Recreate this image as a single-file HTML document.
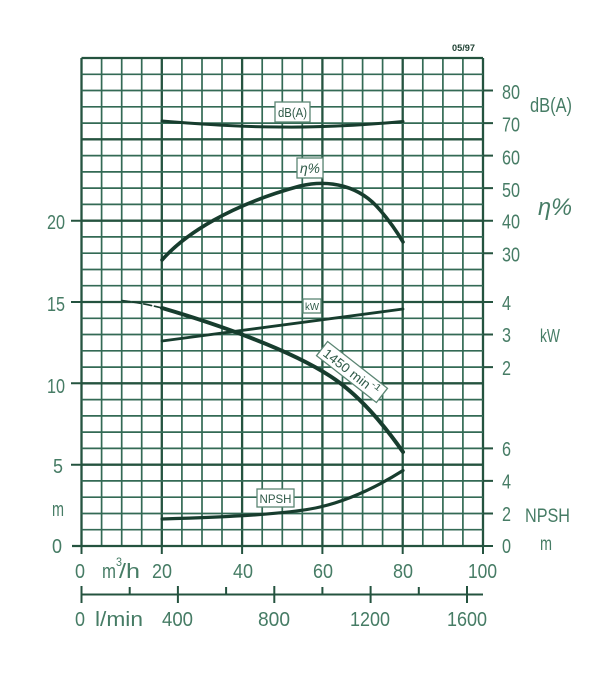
<!DOCTYPE html>
<html>
<head>
<meta charset="utf-8">
<style>
html,body{margin:0;padding:0;background:#fff;}
svg{display:block;}
text{font-family:"Liberation Sans",sans-serif;}
</style>
</head>
<body>
<svg width="600" height="673" viewBox="0 0 600 673" xmlns="http://www.w3.org/2000/svg">
<rect width="600" height="673" fill="#fff"/>

<!-- minor grid vertical -->
<path fill="none" stroke="#336a55" stroke-width="1.7" d="M101.6 58V546M121.7 58V546M141.7 58V546M181.9 58V546M202 58V546M222 58V546M262.2 58V546M282.3 58V546M302.3 58V546M342.5 58V546M362.6 58V546M382.6 58V546M422.8 58V546M442.9 58V546M462.9 58V546"/>
<!-- major grid vertical -->
<path fill="none" stroke="#24533f" stroke-width="2.3" d="M81.5 58V546M161.8 58V546M242.1 58V546M322.4 58V546M402.7 58V546M483 58V546"/>
<!-- horizontal grid -->
<path fill="none" stroke="#336a55" stroke-width="1.7" d="M81.5 529.7H483M81.5 513.5H483M81.5 497.2H483M81.5 480.9H483M81.5 448.4H483M81.5 432.1H483M81.5 415.9H483M81.5 399.6H483M81.5 367.1H483M81.5 350.8H483M81.5 334.5H483M81.5 318.3H483M81.5 285.7H483M81.5 269.5H483M81.5 253.2H483M81.5 236.9H483M81.5 204.4H483M81.5 188.1H483M81.5 171.9H483M81.5 155.6H483M81.5 123.1H483M81.5 106.8H483M81.5 90.5H483M81.5 74.3H483"/>
<path fill="none" stroke="#24533f" stroke-width="2.3" d="M72 546H483M81.5 464.7H483M81.5 383.3H483M81.5 302H483M81.5 220.7H483M81.5 139.3H483M81.5 58H483"/>

<!-- axis ticks -->
<path fill="none" stroke="#24533f" stroke-width="2" d="M71 464.7H81.5M71 383.3H81.5M71 302H81.5M71 220.7H81.5
M483 90.5H493M483 123.1H493M483 155.6H493M483 188.1H493M483 220.7H493M483 253.2H493
M483 302H493M483 334.5H493M483 367.1H493M483 448.4H493M483 480.9H493M483 513.5H493M483 546H493
M81.5 546V554M161.8 546V554M242.1 546V554M322.4 546V554M402.7 546V554M483 546V554"/>

<!-- l/min axis -->
<path fill="none" stroke="#24533f" stroke-width="2" d="M81.5 594.5H483M81.5 586V603M177.9 586V603M274.3 586V603M370.6 586V603M467 586V603M129.7 587V594.5M226.1 587V594.5M322.4 587V594.5M418.8 587V594.5"/>

<!-- curves -->
<g fill="none" stroke="#173d2e" stroke-linecap="round" stroke-linejoin="round">
  <!-- dB(A) -->
  <path stroke-width="3" d="M162 121 C200 124 240 127 280 127 C320 127.5 360 125.5 403 121.5"/>
  <!-- eta -->
  <path stroke-width="3.6" d="M162 260 C185 234 230 205 300 186 C330 179 360 186 380 210 Q393 225 403 242"/>
  <!-- kW -->
  <path stroke-width="2.8" d="M162 341 L403 309"/>
  <!-- H dashed thin start -->
  <path stroke-width="1.6" stroke-dasharray="8 3" d="M122 300.5 Q142 303 162 308"/>
  <!-- H -->
  <path stroke-width="4" d="M162 308 C220 325 290 350 330 376 C358 394 382 422 403 452"/>
  <!-- NPSH -->
  <path stroke-width="3.2" d="M162 519 C230 517 290 514 320 507 C350 500 380 485 403 470.5"/>
</g>

<!-- label boxes -->
<g stroke="#5b8573" stroke-width="1.3" fill="#fff">
  <rect x="275" y="102" width="35" height="20"/>
  <rect x="297" y="158" width="26" height="20"/>
  <rect x="303" y="299" width="18" height="14"/>
  <rect x="257" y="489" width="37" height="18"/>
</g>
<g fill="#2f5a48">
  <text x="278" y="117" font-size="13" textLength="29" lengthAdjust="spacingAndGlyphs">dB(A)</text>
  <text x="300" y="173" font-size="14" font-style="italic" textLength="20" lengthAdjust="spacingAndGlyphs">η%</text>
  <text x="305" y="310" font-size="10" textLength="14" lengthAdjust="spacingAndGlyphs">kW</text>
  <text x="259.5" y="503" font-size="12" textLength="32" lengthAdjust="spacingAndGlyphs">NPSH</text>
</g>
<g transform="translate(352,372) rotate(38)">
  <rect x="-38" y="-9" width="76" height="18" fill="#fff" stroke="#5b8573" stroke-width="1.3"/>
  <text x="-34" y="5" font-size="13" fill="#2f5a48" textLength="30" lengthAdjust="spacingAndGlyphs">1450</text>
  <text x="0" y="5" font-size="13" fill="#2f5a48" textLength="22" lengthAdjust="spacingAndGlyphs">min</text>
  <text x="23" y="-1" font-size="9" fill="#2f5a48" textLength="10" lengthAdjust="spacingAndGlyphs">-1</text>
</g>

<!-- top-right code -->
<text x="452" y="51" font-size="9" font-weight="bold" fill="#1d3f31" textLength="23" lengthAdjust="spacingAndGlyphs">05/97</text>

<!-- left labels -->
<g fill="#467c65" font-size="20">
  <text x="47" y="229" textLength="18" lengthAdjust="spacingAndGlyphs">20</text>
  <text x="47" y="311" textLength="18" lengthAdjust="spacingAndGlyphs">15</text>
  <text x="47" y="393" textLength="18" lengthAdjust="spacingAndGlyphs">10</text>
  <text x="53" y="473" textLength="10" lengthAdjust="spacingAndGlyphs">5</text>
  <text x="52" y="516" textLength="12" lengthAdjust="spacingAndGlyphs">m</text>
  <text x="52" y="553" textLength="10" lengthAdjust="spacingAndGlyphs">0</text>
</g>

<!-- right labels -->
<g fill="#467c65" font-size="20">
  <text x="502" y="99" textLength="18" lengthAdjust="spacingAndGlyphs">80</text>
  <text x="502" y="131.5" textLength="18" lengthAdjust="spacingAndGlyphs">70</text>
  <text x="502" y="164.5" textLength="18" lengthAdjust="spacingAndGlyphs">60</text>
  <text x="502" y="197" textLength="18" lengthAdjust="spacingAndGlyphs">50</text>
  <text x="502" y="228.5" textLength="18" lengthAdjust="spacingAndGlyphs">40</text>
  <text x="502" y="261.5" textLength="18" lengthAdjust="spacingAndGlyphs">30</text>
  <text x="502" y="310" textLength="9" lengthAdjust="spacingAndGlyphs">4</text>
  <text x="502" y="342" textLength="9" lengthAdjust="spacingAndGlyphs">3</text>
  <text x="502" y="375" textLength="9" lengthAdjust="spacingAndGlyphs">2</text>
  <text x="502" y="456" textLength="9" lengthAdjust="spacingAndGlyphs">6</text>
  <text x="502" y="488.5" textLength="9" lengthAdjust="spacingAndGlyphs">4</text>
  <text x="502" y="521" textLength="9" lengthAdjust="spacingAndGlyphs">2</text>
  <text x="502" y="553" textLength="9" lengthAdjust="spacingAndGlyphs">0</text>

  <text x="530" y="112" textLength="42" lengthAdjust="spacingAndGlyphs">dB(A)</text>
  <text x="538" y="215" font-size="24" font-style="italic" textLength="34" lengthAdjust="spacingAndGlyphs">η%</text>
  <text x="540" y="342" font-size="18" textLength="20" lengthAdjust="spacingAndGlyphs">kW</text>
  <text x="525" y="522" font-size="19" textLength="45" lengthAdjust="spacingAndGlyphs">NPSH</text>
  <text x="540" y="550" font-size="19" textLength="12" lengthAdjust="spacingAndGlyphs">m</text>
</g>

<!-- bottom labels -->
<g fill="#467c65" font-size="20">
  <text x="75" y="578" textLength="10" lengthAdjust="spacingAndGlyphs">0</text>
  <text x="102" y="578" textLength="14" lengthAdjust="spacingAndGlyphs">m</text>
  <text x="116" y="566" font-size="12" textLength="6" lengthAdjust="spacingAndGlyphs">3</text>
  <text x="119" y="578" textLength="21" lengthAdjust="spacingAndGlyphs">/h</text>
  <text x="152" y="578" textLength="20" lengthAdjust="spacingAndGlyphs">20</text>
  <text x="233" y="578" textLength="20" lengthAdjust="spacingAndGlyphs">40</text>
  <text x="313" y="578" textLength="20" lengthAdjust="spacingAndGlyphs">60</text>
  <text x="393" y="578" textLength="20" lengthAdjust="spacingAndGlyphs">80</text>
  <text x="468" y="578" textLength="29" lengthAdjust="spacingAndGlyphs">100</text>

  <text x="75" y="626" textLength="10" lengthAdjust="spacingAndGlyphs">0</text>
  <text x="95" y="626" textLength="48" lengthAdjust="spacingAndGlyphs">l/min</text>
  <text x="162" y="626" textLength="31" lengthAdjust="spacingAndGlyphs">400</text>
  <text x="258" y="626" textLength="32" lengthAdjust="spacingAndGlyphs">800</text>
  <text x="350" y="626" textLength="40" lengthAdjust="spacingAndGlyphs">1200</text>
  <text x="447" y="626" textLength="40" lengthAdjust="spacingAndGlyphs">1600</text>
</g>
</svg>
</body>
</html>
